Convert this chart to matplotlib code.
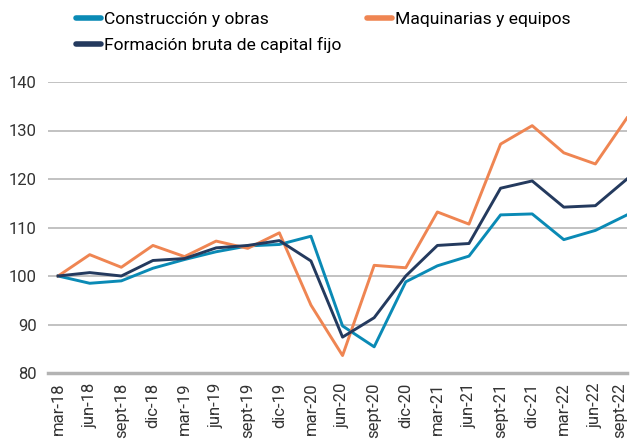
import matplotlib
matplotlib.use("Agg")
import matplotlib.pyplot as plt
from matplotlib.lines import Line2D

categories = ["mar-18", "jun-18", "sept-18", "dic-18", "mar-19", "jun-19", "sept-19", "dic-19",
              "mar-20", "jun-20", "sept-20", "dic-20", "mar-21", "jun-21", "sept-21", "dic-21",
              "mar-22", "jun-22", "sept-22"]
construccion = [100, 98.5, 99.0, 101.6, 103.4, 105.0, 106.2, 106.5, 108.2, 89.7, 85.4, 98.8,
                102.1, 104.1, 112.6, 112.8, 107.5, 109.4, 112.6]
maquinarias = [100, 104.4, 101.8, 106.3, 104.0, 107.2, 105.7, 108.9, 94.0, 83.6, 102.2, 101.7,
               113.2, 110.7, 127.2, 131.0, 125.4, 123.1, 132.6]
formacion = [100, 100.7, 100.0, 103.2, 103.6, 105.8, 106.3, 107.3, 103.1, 87.4, 91.4, 100.0,
             106.3, 106.7, 118.1, 119.6, 114.2, 114.5, 120.0]
yticks = [80, 90, 100, 110, 120, 130, 140]

plt.rcParams['font.family'] = ['Roboto', 'DejaVu Sans']
W, H = 630, 446
fig = plt.figure(figsize=(W / 100, H / 100), dpi=100)
ax = fig.add_axes([48 / W, 1 - 373 / H, (627 - 48) / W, (373 - 82) / H])

x = list(range(len(categories)))
c_teal = "#0a8ab5"
c_orange = "#ef8552"
c_navy = "#243a5e"
txt = "#333333"
l1, = ax.plot(x, construccion, color=c_teal, lw=2.1, label="Construcción y obras")
l2, = ax.plot(x, maquinarias, color=c_orange, lw=2.1, label="Maquinarias y equipos")
l3, = ax.plot(x, formacion, color=c_navy, lw=2.1, label="Formación bruta de capital fijo")

ax.set_ylim(80, 140)
ax.set_xlim(-0.32, 18.0)
ax.set_yticks(yticks)
ax.set_xticks(x)
ax.set_xticklabels(categories, rotation=90, fontsize=12, color=txt)
ax.tick_params(axis='y', labelsize=12, colors=txt, length=0, pad=8)
ax.tick_params(axis='x', length=0, pad=7, colors=txt)
ax.get_xticklabels()[-1].set_horizontalalignment('right')
ax.grid(axis='y', color="#bdbdbd", lw=1.3)
ax.set_axisbelow(True)
for s in ["top", "right", "left"]:
    ax.spines[s].set_visible(False)
ax.spines["bottom"].set_color("#b3b3b3")
ax.spines["bottom"].set_linewidth(2.5)

def add_leg(line, px, py):
    h = Line2D([], [], color=line.get_color(), lw=4, solid_capstyle="round")
    lg = fig.legend(handles=[h], labels=[line.get_label()], loc="center left",
                    bbox_to_anchor=(px / W, 1 - py / H), frameon=False, fontsize=12.6,
                    handlelength=1.45, handletextpad=0.15, borderpad=0, borderaxespad=0)
    return lg

add_leg(l1, 76, 19)
add_leg(l2, 367, 19)
add_leg(l3, 76, 45)

fig.savefig("out.png", dpi=100)
